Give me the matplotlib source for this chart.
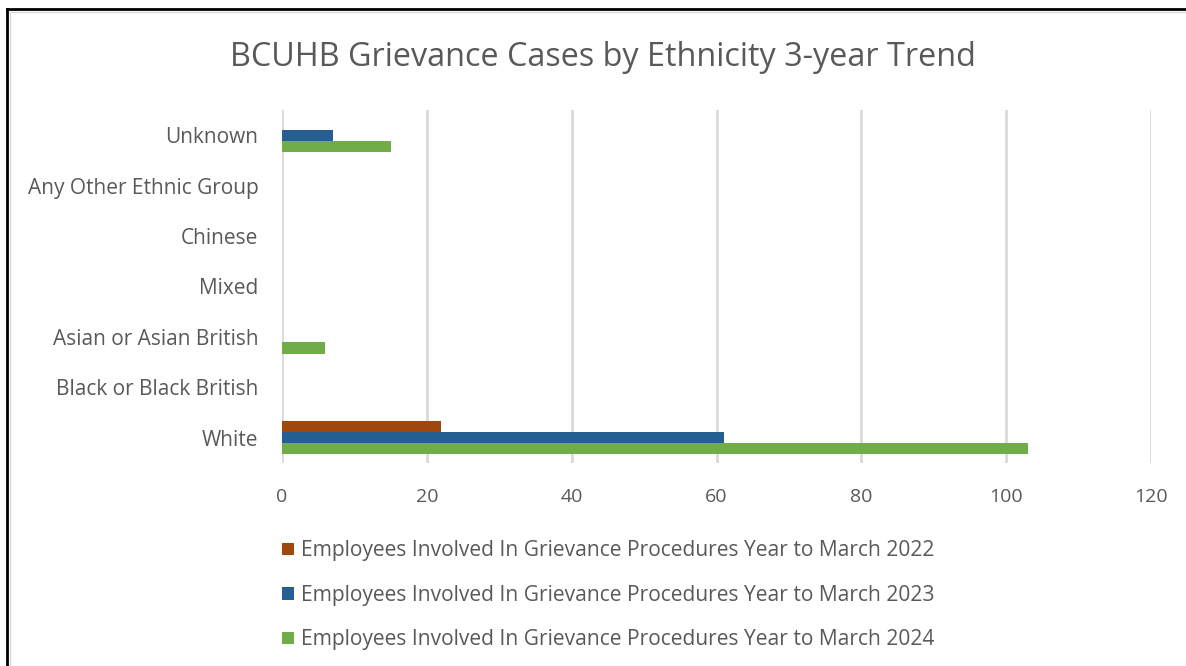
import numpy as np
import matplotlib.pyplot as plt
from matplotlib.lines import Line2D
from matplotlib.patches import Patch

plt.rcParams['font.family'] = ['Open Sans', 'DejaVu Sans']

# --- Données ---
categories = ["White", "Black or Black British", "Asian or Asian British",
              "Mixed", "Chinese", "Any Other Ethnic Group", "Unknown"]
cas_2022 = [22, 0, 0, 0, 0, 0, 0]
cas_2023 = [61, 0, 0, 0, 0, 0, 7]
cas_2024 = [103, 0, 6, 0, 0, 0, 15]
labels_series = [
    "Employees Involved In Grievance Procedures Year to March 2022",
    "Employees Involved In Grievance Procedures Year to March 2023",
    "Employees Involved In Grievance Procedures Year to March 2024",
]
couleurs = ["#9E480E", "#255E91", "#70AD47"]
gris_texte = "#595959"

fig = plt.figure(figsize=(11.86, 6.66), dpi=100)
ax = fig.add_axes([282 / 1186, 1 - 463 / 666, (1151 - 282) / 1186, (463 - 110) / 666])

y = np.arange(len(categories))
h = 0.22
ax.barh(y + h, cas_2022, height=h, color=couleurs[0], zorder=3)
ax.barh(y, cas_2023, height=h, color=couleurs[1], zorder=3)
ax.barh(y - h, cas_2024, height=h, color=couleurs[2], zorder=3)

ax.set_xlim(0, 120)
ax.set_ylim(-0.5, len(categories) - 0.5)
ax.set_xticks(np.arange(0, 121, 20))
ax.set_yticks(y)
ax.set_yticklabels(categories)
ax.tick_params(axis="both", length=0, colors=gris_texte)
ax.tick_params(axis="x", pad=18, labelsize=14)
ax.tick_params(axis="y", pad=17, labelsize=15)
ax.grid(axis="x", color="#D9D9D9", linewidth=2, zorder=0)
for s in ax.spines.values():
    s.set_visible(False)

fig.text(603 / 1186, 1 - 58 / 666, "BCUHB Grievance Cases by Ethnicity 3-year Trend",
         ha="center", va="center", fontsize=23.3, color=gris_texte)

# Légende en bas
handles = [Patch(facecolor=c) for c in couleurs]
fig.legend(handles, labels_series, loc="upper left", bbox_to_anchor=(274 / 1186, 1 - 532 / 666),
           frameon=False, fontsize=15.1, labelcolor=gris_texte, handlelength=0.55,
           handleheight=0.55, handletextpad=0.35, labelspacing=1.12, borderaxespad=0)

# Cadre
fig.add_artist(Line2D([7 / 1186, 7 / 1186], [0, 1 - 9 / 666], color="black", linewidth=2))
fig.add_artist(Line2D([7 / 1186, 1], [1 - 9 / 666, 1 - 9 / 666], color="black", linewidth=2))
fig.add_artist(Line2D([10 / 1186, 10 / 1186], [0, 1 - 12 / 666], color="#D9D9D9", linewidth=1))
fig.add_artist(Line2D([10 / 1186, 1], [1 - 12 / 666, 1 - 12 / 666], color="#D9D9D9", linewidth=1))

fig.savefig("out.png", dpi=100)
